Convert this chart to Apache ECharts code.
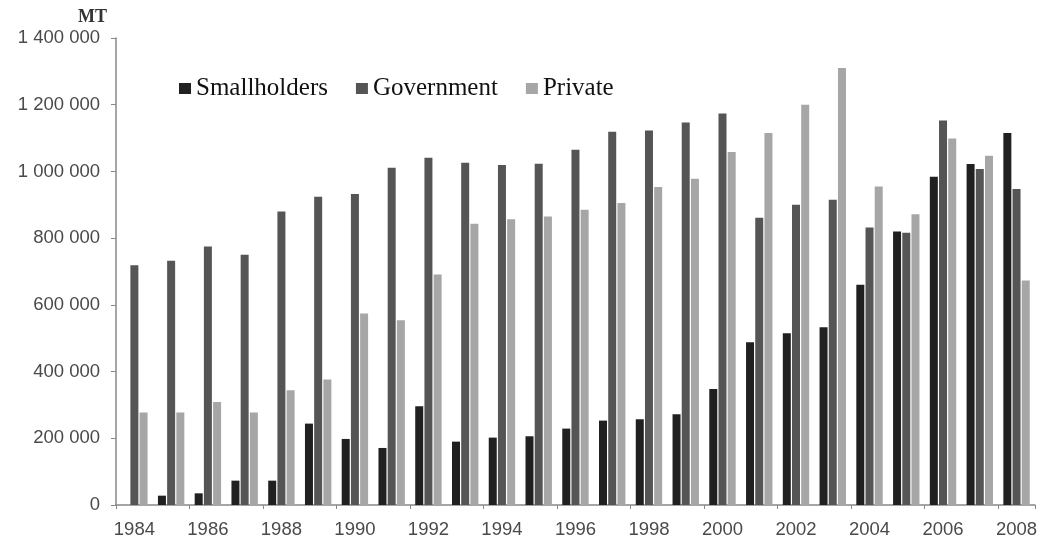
<!DOCTYPE html>
<html>
<head>
<meta charset="utf-8">
<script src="https://cdn.jsdelivr.net/npm/echarts@6/dist/echarts.min.js"></script>
<style>
  html, body { margin: 0; padding: 0; background: #fff; }
  #chart { width: 1040px; height: 541px; }
</style>
</head>
<body>
<div id="chart"></div>
<script>
const years = ['1984', '1985', '1986', '1987', '1988', '1989', '1990', '1991', '1992', '1993',
  '1994', '1995', '1996', '1997', '1998', '1999', '2000', '2001', '2002', '2003',
  '2004', '2005', '2006', '2007', '2008']

const smallholders = [0, 28000, 35000, 73000, 73000, 244000, 198000, 171000, 296000, 190000,
  202000, 206000, 229000, 253000, 257000, 272000, 348000, 488000, 515000, 533000,
  660000, 820000, 984000, 1022000, 1115000]

const government = [719000, 732000, 775000, 750000, 880000, 924000, 932000, 1011000, 1041000, 1026000,
  1019000, 1023000, 1065000, 1119000, 1123000, 1147000, 1174000, 861000, 900000, 915000,
  832000, 816000, 1153000, 1007000, 947000]

const privateSector = [277000, 277000, 309000, 277000, 344000, 376000, 574000, 554000, 691000, 843000,
  857000, 865000, 885000, 905000, 953000, 978000, 1058000, 1115000, 1200000, 1310000,
  955000, 872000, 1099000, 1047000, 673000]

const seriesNames = ['Smallholders', 'Government', 'Private']
const colors = ['#202020', '#555555', '#a6a6a6']

// 1400000 -> "1 400 000"
function spaced(v) {
  return String(v).replace(/\B(?=(\d{3})+(?!\d))/g, ' ')
}

const chart = echarts.init(document.getElementById('chart'), null, { renderer: 'canvas' })

chart.setOption({
  backgroundColor: '#ffffff',
  animation: false,
  color: colors,
  grid: {
    left: 116,
    top: 38,
    width: 925,
    height: 467,
    containLabel: false
  },
  legend: {
    left: 174,
    top: 71,
    icon: 'rect',
    itemWidth: 12,
    itemHeight: 11,
    itemGap: 28,
    textStyle: {
      fontFamily: 'Liberation Serif',
      fontSize: 25,
      color: '#111'
    },
    data: seriesNames
  },
  xAxis: {
    type: 'category',
    data: years,
    axisLine: { lineStyle: { color: '#888', width: 1.5 } },
    axisTick: { show: true, length: 4, lineStyle: { color: '#888' } },
    axisLabel: {
      interval: 1,
      margin: 15,
      fontFamily: 'Liberation Sans',
      fontSize: 18.5,
      color: '#4a4a4a'
    }
  },
  yAxis: {
    type: 'value',
    min: 0,
    max: 1400000,
    interval: 200000,
    name: 'MT',
    nameLocation: 'end',
    nameGap: 12,
    nameTextStyle: {
      fontFamily: 'Liberation Serif',
      fontSize: 18,
      fontWeight: 'bold',
      color: '#333',
      align: 'right',
      padding: [0, 9, 0, 0]
    },
    splitLine: { show: false },
    axisLine: { show: true, lineStyle: { color: '#888', width: 1.5 } },
    axisTick: { show: true, length: 5, lineStyle: { color: '#888' } },
    axisLabel: {
      margin: 16,
      fontFamily: 'Liberation Sans',
      fontSize: 18.5,
      color: '#4a4a4a',
      formatter: spaced
    }
  },
  series: [
    { name: seriesNames[0], type: 'bar', data: smallholders, barWidth: 8, barGap: '15%' },
    { name: seriesNames[1], type: 'bar', data: government, barWidth: 8, barGap: '15%' },
    { name: seriesNames[2], type: 'bar', data: privateSector, barWidth: 8, barGap: '15%' }
  ]
})
</script>
</body>
</html>
